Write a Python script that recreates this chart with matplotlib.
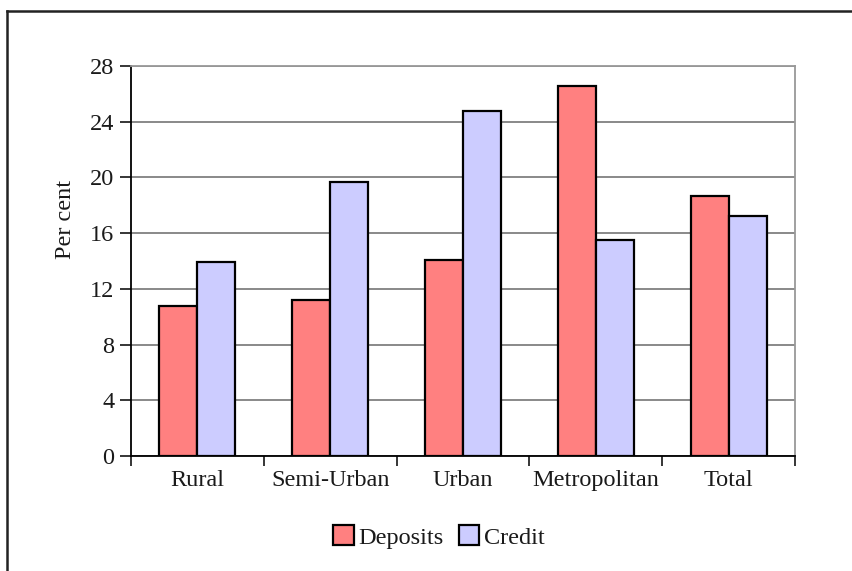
import numpy as np
import matplotlib
matplotlib.use("Agg")
import matplotlib.pyplot as plt
from matplotlib.lines import Line2D

plt.rcParams['font.family'] = ['Liberation Serif', 'DejaVu Serif']

categories = ["Rural", "Semi-Urban", "Urban", "Metropolitan", "Total"]
deposits = [10.8, 11.2, 14.1, 26.6, 18.7]
credit = [13.9, 19.7, 24.8, 15.5, 17.2]
y_ticks = [0, 4, 8, 12, 16, 20, 24, 28]

text_col = "#1a1a1a"
fs = 17.5
fig = plt.figure(figsize=(8.52, 5.71), dpi=100)

# outer frame: only left and top edges are visible in the source
fx, fy = 6.5 / 852, 1 - 11 / 571
fig.lines.append(Line2D([fx, fx], [-0.1, fy], transform=fig.transFigure,
                        color="#222222", linewidth=1.8))
fig.lines.append(Line2D([fx, 1.1], [fy, fy], transform=fig.transFigure,
                        color="#222222", linewidth=1.8))

ax = fig.add_axes([131 / 852, 1 - 456 / 571, (795 - 131) / 852, (456 - 66) / 571])

x = np.arange(len(categories))
w = 0.286
ax.bar(x - w / 2, deposits, w, color="#FF8080", edgecolor="black", linewidth=1.6,
       label="Deposits", zorder=3)
ax.bar(x + w / 2, credit, w, color="#CCCCFF", edgecolor="black", linewidth=1.6,
       label="Credit", zorder=3)

ax.set_xlim(-0.5, len(categories) - 0.5)
ax.set_ylim(0, 28)
ax.set_yticks(y_ticks)
ax.set_yticklabels([str(v) for v in y_ticks], fontsize=fs, color=text_col)
ax.yaxis.grid(True, color="#808080", linewidth=1.3, zorder=0)
ax.set_axisbelow(True)

ax.set_xticks(x)
ax.set_xticklabels(categories, fontsize=fs, color=text_col)
ax.tick_params(axis="x", which="major", length=0, pad=10)
ax.set_xticks(np.arange(-0.5, len(categories)), minor=True)
ax.tick_params(axis="x", which="minor", length=7, width=1.1, direction="out", color="black")
ax.tick_params(axis="y", length=8, width=1.1, direction="out", color="black", pad=4)

for s in ["top", "right"]:
    ax.spines[s].set_color("#999999")
    ax.spines[s].set_linewidth(1.3)
for s in ["left", "bottom"]:
    ax.spines[s].set_color("black")
    ax.spines[s].set_linewidth(1.3)

ax.set_ylabel("Per cent", fontsize=fs, color=text_col)
ax.yaxis.set_label_coords(-0.083, (456 - 219) / 390)

fig.legend(loc="center", bbox_to_anchor=(439 / 852, 1 - 537 / 571), ncol=2, frameon=False,
           fontsize=fs, handlelength=0.85, handleheight=0.85, handletextpad=0.2,
           columnspacing=0.6, labelcolor=text_col)

fig.savefig("out.png", dpi=100)
